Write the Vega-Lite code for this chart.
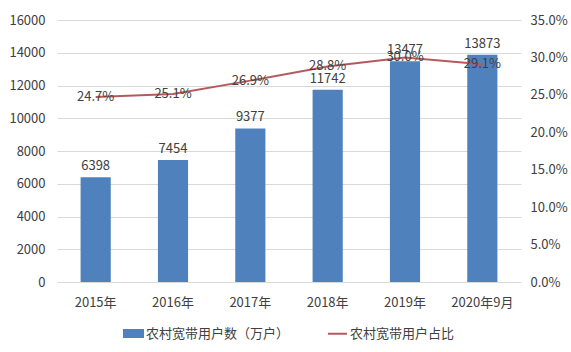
{
  "$schema": "https://vega.github.io/schema/vega-lite/v6.json",
  "autosize": "none",
  "padding": {"left": 57, "top": 20, "right": 50, "bottom": 70},
  "width": 464,
  "height": 262,
  "background": "white",
  "config": {
    "font": "Noto Sans CJK SC",
    "view": {"stroke": null},
    "axis": {"labelFont": "Noto Sans CJK SC", "labelFontSize": 13, "labelColor": "#404040"}
  },
  "data": {
    "values": [
      {"year": "2015年", "users": 6398, "ratio": 0.247, "rl": "24.7%"},
      {"year": "2016年", "users": 7454, "ratio": 0.251, "rl": "25.1%"},
      {"year": "2017年", "users": 9377, "ratio": 0.269, "rl": "26.9%"},
      {"year": "2018年", "users": 11742, "ratio": 0.288, "rl": "28.8%"},
      {"year": "2019年", "users": 13477, "ratio": 0.300, "rl": "30.0%"},
      {"year": "2020年9月", "users": 13873, "ratio": 0.291, "rl": "29.1%"}
    ]
  },
  "encoding": {
    "x": {
      "field": "year", "type": "nominal", "sort": null,
      "scale": {"paddingInner": 0.61, "paddingOuter": 0.305},
      "axis": {"title": null, "labelAngle": 0, "ticks": false, "domain": false, "labelPadding": 14}
    }
  },
  "layer": [
    {
      "encoding": {
        "y": {
          "field": "users", "type": "quantitative",
          "scale": {"domain": [0, 16000], "nice": false},
          "axis": {"title": null, "values": [0,2000,4000,6000,8000,10000,12000,14000,16000], "format": "d", "ticks": false, "domain": false, "gridColor": "#d9d9d9", "labelPadding": 12}
        }
      },
      "layer": [
        {
          "mark": {"type": "bar", "color": "#4f81bd"},
          "encoding": {
            "color": {
              "datum": "农村宽带用户数（万户）",
              "type": "nominal",
              "scale": {"domain": ["农村宽带用户数（万户）", "农村宽带用户占比"], "range": ["#4f81bd", "#b55a5c"]},
              "legend": {
                "title": null,
                "orient": "none",
                "legendX": 66,
                "legendY": 303,
                "direction": "horizontal",
                "labelFontSize": 13,
                "labelColor": "#404040",
                "labelFont": "Noto Sans CJK SC",
                "columnPadding": 34,
                "labelOffset": 2,
                "symbolSize": 361,
                "encode": {
                  "symbols": {
                    "update": {
                      "shape": {"signal": "datum.value === '农村宽带用户占比' ? 'stroke' : 'M-1,-0.36L1,-0.36L1,0.36L-1,0.36Z'"},
                      "fill": {"signal": "datum.value === '农村宽带用户占比' ? 'transparent' : '#4f81bd'"},
                      "stroke": {"signal": "datum.value === '农村宽带用户占比' ? '#b55a5c' : 'transparent'"},
                      "strokeWidth": {"value": 2},
                      "opacity": {"value": 1}
                    }
                  }
                }
              }
            }
          }
        },
        {
          "mark": {"type": "text", "baseline": "bottom", "dy": -4, "fontSize": 13, "color": "#404040", "font": "Noto Sans CJK SC"},
          "encoding": {"text": {"field": "users", "type": "quantitative", "format": "d"}}
        }
      ]
    },
    {
      "encoding": {
        "y": {
          "field": "ratio", "type": "quantitative",
          "scale": {"domain": [0, 0.35], "nice": false},
          "axis": {"title": null, "orient": "right", "values": [0,0.05,0.1,0.15,0.2,0.25,0.3,0.35], "format": ".1%", "ticks": false, "domain": false, "grid": false, "labelPadding": 9}
        }
      },
      "layer": [
        {
          "mark": {"type": "line", "strokeWidth": 2},
          "encoding": {
            "color": {"datum": "农村宽带用户占比", "type": "nominal"}
          }
        },
        {
          "mark": {"type": "text", "baseline": "middle", "fontSize": 13, "color": "#404040", "font": "Noto Sans CJK SC"},
          "encoding": {"text": {"field": "rl", "type": "nominal"}}
        }
      ]
    }
  ],
  "resolve": {"scale": {"y": "independent"}}
}
